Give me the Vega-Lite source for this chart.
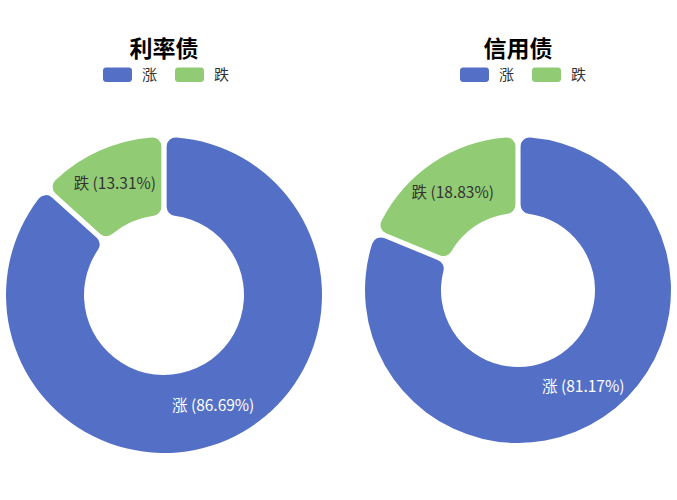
{
  "$schema": "https://vega.github.io/schema/vega-lite/v6.json",
  "padding": {"left": 5, "top": 39, "right": 0, "bottom": 0},
  "background": "white",
  "bounds": "flush",
  "data": {"values": [
    {"panel": "利率债", "type": "涨", "value": 86.69, "label": "涨 (86.69%)"},
    {"panel": "利率债", "type": "跌", "value": 13.31, "label": "跌 (13.31%)"},
    {"panel": "信用债", "type": "涨", "value": 81.17, "label": "涨 (81.17%)"},
    {"panel": "信用债", "type": "跌", "value": 18.83, "label": "跌 (18.83%)"}
  ]},
  "spacing": 36,
  "hconcat": [
    {
      "title": "利率债",
      "width": 318,
      "height": 320,
      "transform": [{"filter": "datum.panel === '利率债'"}],
      "encoding": {
        "theta": {"field": "value", "type": "quantitative", "stack": true},
        "order": {"field": "type", "sort": "ascending"}
      },
      "layer": [
        {
          "mark": {"type": "arc", "innerRadius": 80, "outerRadius": 158, "cornerRadius": 9, "padAngle": 0.03},
          "encoding": {
            "color": {"field": "type", "type": "nominal", "sort": ["涨", "跌"],
              "scale": {"domain": ["涨", "跌"], "range": ["#5470c6", "#91cc75"]},
              "legend": {"title": null, "orient": "none", "direction": "horizontal", "legendX": 98, "legendY": -75}}
          }
        },
        {
          "mark": {"type": "text", "radius": 121, "fontSize": 15.5},
          "encoding": {
            "text": {"field": "label"},
            "color": {"condition": {"test": "datum.type === '涨'", "value": "white"}, "value": "#333"}
          }
        }
      ]
    },
    {
      "title": "信用债",
      "width": 318,
      "height": 310,
      "transform": [{"filter": "datum.panel === '信用债'"}],
      "encoding": {
        "theta": {"field": "value", "type": "quantitative", "stack": true},
        "order": {"field": "type", "sort": "ascending"}
      },
      "layer": [
        {
          "mark": {"type": "arc", "innerRadius": 77, "outerRadius": 153, "cornerRadius": 9, "padAngle": 0.03},
          "encoding": {
            "color": {"field": "type", "type": "nominal", "sort": ["涨", "跌"],
              "scale": {"domain": ["涨", "跌"], "range": ["#5470c6", "#91cc75"]},
              "legend": {"title": null, "orient": "none", "direction": "horizontal", "legendX": 101, "legendY": -75}}
          }
        },
        {
          "mark": {"type": "text", "radius": 117, "fontSize": 15.5},
          "encoding": {
            "text": {"field": "label"},
            "color": {"condition": {"test": "datum.type === '涨'", "value": "white"}, "value": "#333"}
          }
        }
      ]
    }
  ],
  "resolve": {"legend": {"color": "independent"}, "scale": {"color": "independent"}},
  "config": {
    "font": "Noto Sans CJK SC",
    "view": {"stroke": null},
    "title": {"fontSize": 23, "fontWeight": "bold", "color": "#000", "anchor": "middle", "offset": -2},
    "legend": {
      "symbolType": "M-0.8,-0.5H0.8A0.2,0.2 0 0 1 1,-0.3V0.3A0.2,0.2 0 0 1 0.8,0.5H-0.8A0.2,0.2 0 0 1 -1,0.3V-0.3A0.2,0.2 0 0 1 -0.8,-0.5Z",
      "symbolSize": 841,
      "symbolStrokeWidth": 0,
      "symbolOpacity": 1,
      "labelFontSize": 15,
      "labelColor": "#333",
      "labelOffset": 10,
      "columnPadding": 16,
      "padding": 0
    }
  }
}
